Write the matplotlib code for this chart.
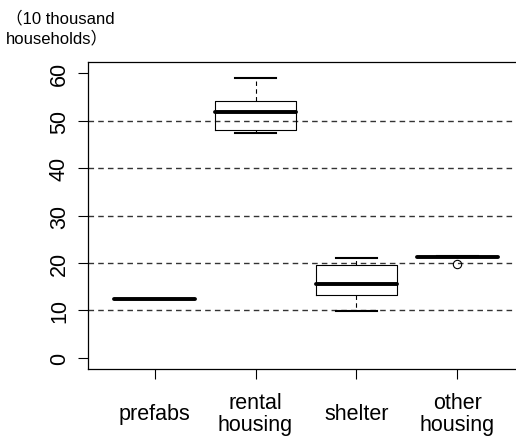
import matplotlib
matplotlib.use('Agg')
import matplotlib.pyplot as plt

# Boxplot summary values, unit: 10 thousand households
categories = ['prefabs', 'rental\nhousing', 'shelter', 'other\nhousing']
whislo = [12.4, 47.4, 9.9, 21.2]
q1 = [12.4, 48.1, 13.2, 21.2]
med = [12.4, 51.8, 15.5, 21.3]
q3 = [12.4, 54.2, 19.5, 21.4]
whishi = [12.4, 59.1, 21.1, 21.4]
fliers = [[], [], [], [19.8]]
yticks = [0, 10, 20, 30, 40, 50, 60]
gridvals = [10, 20, 30, 40, 50]

plt.rcParams['font.family'] = ['Liberation Sans', 'Noto Sans CJK JP']

fig = plt.figure(figsize=(5.16, 4.39), dpi=100)
ax = fig.add_axes([0.1705, 0.157, 0.845, 0.6995])

stats = []
for i in range(len(categories)):
    stats.append(dict(whislo=whislo[i], q1=q1[i], med=med[i], q3=q3[i],
                      whishi=whishi[i], fliers=fliers[i]))

# dashed reference lines
for g in gridvals:
    ax.axhline(g, color='#333333', ls=(0, (4, 3)), lw=1.0, zorder=0)

ax.bxp(stats, positions=[1, 2, 3, 4], widths=0.8, patch_artist=False,
       boxprops=dict(color='black', lw=0.8),
       medianprops=dict(color='black', lw=2.8, solid_capstyle='round'),
       whiskerprops=dict(color='black', lw=0.8, ls=(0, (4, 3))),
       capprops=dict(color='black', lw=1.5),
       capwidths=0.4,
       flierprops=dict(marker='o', markersize=6, markerfacecolor='none',
                       markeredgecolor='black', markeredgewidth=0.8))

ax.set_xlim(0.34, 4.66)
ax.set_ylim(-2.4, 62.4)
ax.set_yticks(yticks)
ax.set_yticklabels([str(v) for v in yticks], rotation=90, va='center', fontsize=15.5)
ax.set_xticks([1, 2, 3, 4])
ax.set_xticklabels(categories, fontsize=15.5, linespacing=1.12)
for lab in ax.get_xticklabels():
    lab.set_verticalalignment('center')
ax.tick_params(axis='x', length=7, width=0.8, pad=25)
ax.tick_params(axis='y', length=7, width=0.8, pad=6)
for s in ax.spines.values():
    s.set_linewidth(0.9)

fig.text(0.012, 0.935, '（10 thousand\nhouseholds）', fontsize=12,
         va='center', ha='left', linespacing=1.35)

fig.savefig('out.png', dpi=100)
